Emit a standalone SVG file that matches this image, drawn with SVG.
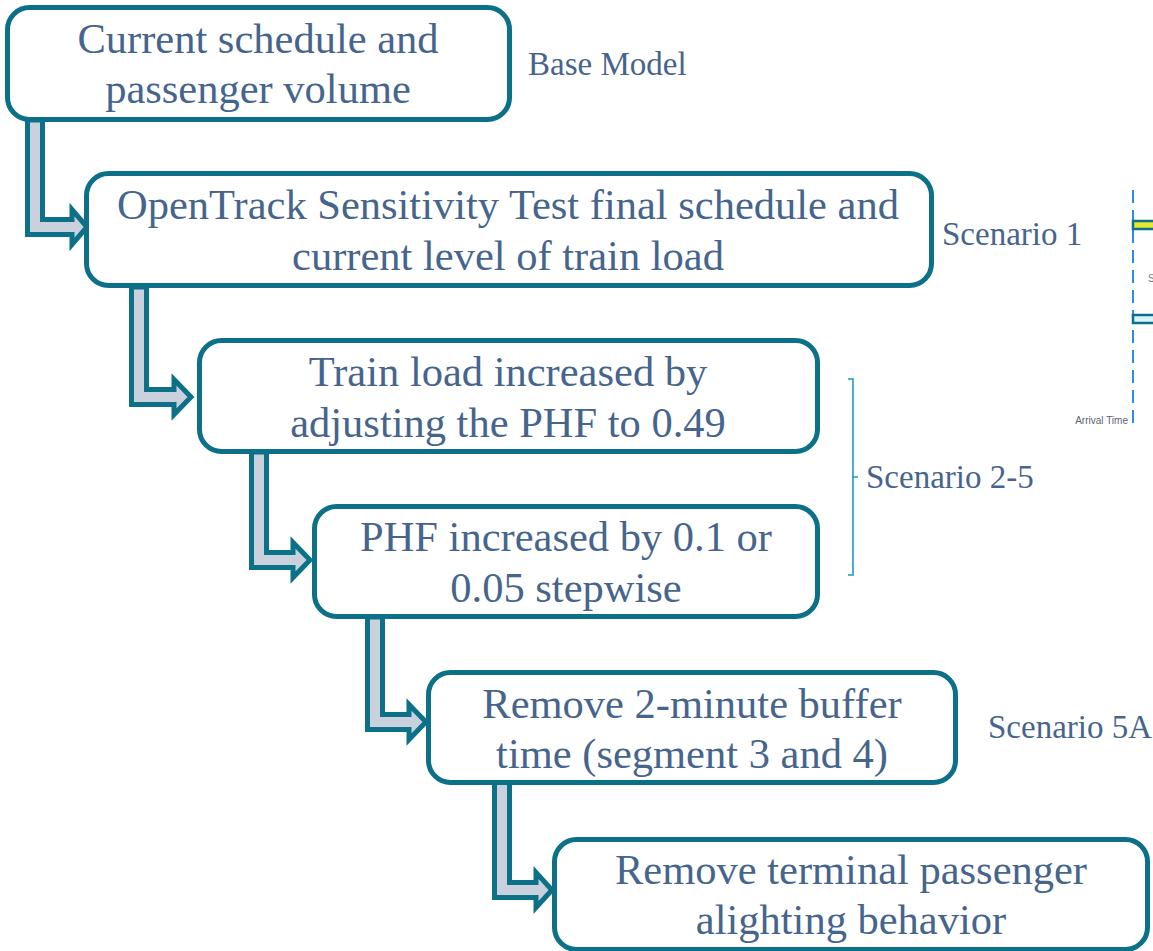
<svg xmlns="http://www.w3.org/2000/svg" width="1153" height="951" viewBox="0 0 1153 951">
<style>
.box{fill:#fff;stroke:#0b7088;stroke-width:5}
.t{font-family:"Liberation Serif","Times New Roman",serif;font-size:42.5px;fill:#46658d;text-anchor:middle}
.lbl{font-family:"Liberation Serif","Times New Roman",serif;font-size:33px;fill:#46658d}
.arr{fill:#c9d1dd;stroke:#0b7088;stroke-width:5;stroke-linejoin:miter}
</style>
<rect width="1153" height="951" fill="#fff"/>
<g id="connectors">
<polygon class="arr" points="27.5,120 42.5,120 42.5,219.5 72,219.5 72,209.5 87,227 72,244.5 72,234.5 27.5,234.5"/>
<polygon class="arr" points="131.5,287 146.5,287 146.5,389.5 174,389.5 174,379.5 191,397 174,414.5 174,404.5 131.5,404.5"/>
<polygon class="arr" points="251.5,452 266.5,452 266.5,552.5 293,552.5 293,542.5 310,560 293,577.5 293,567.5 251.5,567.5"/>
<polygon class="arr" points="367.5,617 382.5,617 382.5,714.5 409,714.5 409,704.5 426,722 409,739.5 409,729.5 367.5,729.5"/>
<polygon class="arr" points="494.5,782 509.5,782 509.5,882.5 536,882.5 536,872.5 552,890 536,907.5 536,897.5 494.5,897.5"/>
</g>
<g id="n1"><rect class="box" x="7.5" y="7.5" width="502" height="112" rx="22"/>
<text class="t" x="258" y="53">Current schedule and</text><text class="t" x="258" y="103">passenger volume</text></g>
<g id="n2"><rect class="box" x="86.5" y="173.5" width="845" height="112" rx="22"/>
<text class="t" x="508" y="219">OpenTrack Sensitivity Test final schedule and</text><text class="t" x="508" y="270">current level of train load</text></g>
<g id="n3"><rect class="box" x="199.5" y="340.5" width="618" height="111" rx="22"/>
<text class="t" x="508" y="386">Train load increased by</text><text class="t" x="508" y="437">adjusting the PHF to 0.49</text></g>
<g id="n4"><rect class="box" x="314.5" y="506.5" width="503" height="110" rx="22"/>
<text class="t" x="566" y="551">PHF increased by 0.1 or</text><text class="t" x="566" y="602">0.05 stepwise</text></g>
<g id="n5"><rect class="box" x="428.5" y="672.5" width="527" height="110" rx="22"/>
<text class="t" x="692" y="718">Remove 2-minute buffer</text><text class="t" x="692" y="768">time (segment 3 and 4)</text></g>
<g id="n6"><rect class="box" x="554.5" y="839.5" width="593" height="110" rx="22"/>
<text class="t" x="851" y="884">Remove terminal passenger</text><text class="t" x="851" y="934">alighting behavior</text></g>
<g id="labels">
<text class="lbl" x="528" y="75">Base Model</text>
<text class="lbl" x="942" y="245">Scenario 1</text>
<text class="lbl" x="866" y="488">Scenario 2-5</text>
<text class="lbl" x="988" y="738">Scenario 5A</text>
<path d="M848,379 H853 V575 H848 M853,477 H858" fill="none" stroke="#1a9cc4" stroke-width="1.6"/>
</g>
<g id="fragment">
<line x1="1133" y1="190" x2="1133" y2="430" stroke="#2a8cf0" stroke-width="2" stroke-dasharray="13,7"/>
<rect x="1133" y="221" width="25" height="8" fill="#e8e830" stroke="#0b7088" stroke-width="2.5"/>
<rect x="1133" y="315" width="25" height="8" fill="#d8f4f8" stroke="#0b7088" stroke-width="2.5"/>
<text x="1148" y="282" font-family="Liberation Sans,sans-serif" font-size="10" fill="#6a7a8a">S</text>
<text x="1128" y="424" font-family="Liberation Sans,sans-serif" font-size="10" fill="#5a6470" text-anchor="end">Arrival Time</text>
</g>
</svg>
